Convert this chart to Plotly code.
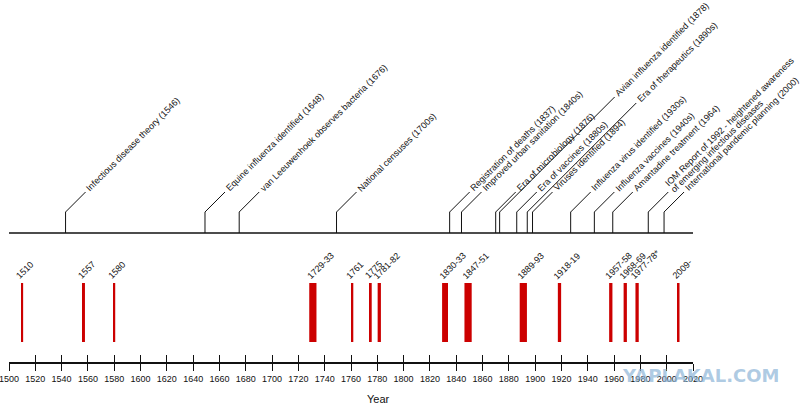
import plotly.graph_objects as go

# pandemics (red bars)
pandemic_labels = ['1510', '1557', '1580', '1729-33', '1761', '1775', '1781-82', '1830-33',
                   '1847-51', '1889-93', '1918-19', '1957-58', '1968-69', '1977-78*', '2009-']
pandemic_start = [1510, 1557, 1580, 1729, 1761, 1775, 1781, 1830, 1847, 1889, 1918, 1957, 1968, 1977, 2009]
pandemic_end = [1510, 1557, 1580, 1733, 1761, 1775, 1782, 1833, 1851, 1893, 1919, 1958, 1969, 1978, 2009]

# milestones on the upper timeline
event_labels = [
    'Infectious disease theory (1546)',
    'Equine influenza identified (1648)',
    'van Leeuwenhoek observes bacteria (1676)',
    'National censuses (1700s)',
    'Registration of deaths (1837)',
    'Improved urban sanitation (1840s)',
    'Era of microbiology (1876)',
    'Avian influenza identified (1878)',
    'Era of vaccines (1880s)',
    'Era of therapeutics (1890s)',
    'Viruses identified (1894)',
    'Influenza virus identified (1930s)',
    'Influenza vaccines (1940s)',
    'Amantadine treatment (1964)',
    'IOM Report of 1992 - heightened awareness\nof emerging infectious diseases',
    'International pandemic planning (2000)',
]
event_years = [1543, 1649, 1675, 1749, 1835, 1844, 1870, 1873, 1886, 1894, 1898, 1927, 1945, 1959, 1986, 1998]

tick_years = list(range(1500, 2021, 20))

FONT = 'Liberation Sans, Arial, sans-serif'
RED = '#cc0000'

W, H = 807, 405
ML, MR, MB = 9, 114, 43
px_per_year = (W - ML - MR) / (2020 - 1500)

# layout heights (in px above the axis)
line_y = 129
stub_y = 150
bar_base, bar_top = 20, 79
diag = {'Avian influenza identified (1878)': 115, 'Era of therapeutics (1890s)': 109}

fig = go.Figure()

# red bars
fig.add_trace(go.Bar(
    x=[(s + e) / 2 for s, e in zip(pandemic_start, pandemic_end)],
    y=[bar_top - bar_base] * len(pandemic_start),
    base=bar_base,
    width=[e - s + 1.5 for s, e in zip(pandemic_start, pandemic_end)],
    marker=dict(color=RED, line=dict(width=0)),
    hoverinfo='skip',
))

# upper timeline and leaders
fig.add_trace(go.Scatter(x=[1500, 2020], y=[line_y, line_y], mode='lines',
                         line=dict(color='#111', width=1.5), hoverinfo='skip'))

lx, ly = [], []
ends = []
for lab, yr in zip(event_labels, event_years):
    d = diag.get(lab, 20)
    ex, ey = yr + d / px_per_year, stub_y + d
    lx += [yr, yr, ex, None]
    ly += [line_y, stub_y, ey, None]
    ends.append((ex, ey))
fig.add_trace(go.Scatter(x=lx, y=ly, mode='lines', line=dict(color='#111', width=1),
                         hoverinfo='skip'))

# dummy trace so the second (inside ticks) axis is drawn
fig.add_trace(go.Scatter(x=[1500], y=[0], xaxis='x2', mode='markers',
                         marker=dict(opacity=0), hoverinfo='skip'))

annotations = []
for lab, s, e in zip(pandemic_labels, pandemic_start, pandemic_end):
    annotations.append(dict(
        x=(s + e) / 2, y=bar_top, text=lab, showarrow=False, textangle=-45,
        xanchor='left', yanchor='bottom', xshift=-10.6, yshift=-0.7,
        font=dict(family=FONT, size=9, color='#111')))

# text midline continues the leader; wrapped labels get split lines
for lab, (ex, ey) in zip(event_labels, ends):
    lines = lab.split('\n')
    for i, txt in enumerate(lines):
        perp = 0 if len(lines) == 1 else (-6 if i == 0 else 2.5)
        annotations.append(dict(
            x=ex, y=ey, text=txt, showarrow=False, textangle=-45,
            xanchor='left', yanchor='bottom',
            xshift=-3.8 + perp * 0.707, yshift=-3.8 - perp * 0.707,
            font=dict(family=FONT, size=9, color='#111')))

annotations.append(dict(x=1781, y=0, yref='paper', text='Year', showarrow=False,
                        yanchor='top', yshift=-29, font=dict(family=FONT, size=11, color='#111')))
# site watermark, bottom right
annotations.append(dict(x=1.011, y=-0.036, xref='paper', yref='paper', text='YAPLAKAL.COM',
                        showarrow=False, xanchor='center', yanchor='middle',
                        font=dict(family='DejaVu Sans', size=18, weight='bold',
                                  color='rgba(140,180,215,0.7)')))

axis_common = dict(range=[1500, 2020], tickvals=tick_years, ticklen=7, tickwidth=1.3,
                   tickcolor='#111', showgrid=False, zeroline=False, fixedrange=True)

fig.update_layout(
    width=W, height=H,
    margin=dict(l=ML, r=MR, t=0, b=MB),
    paper_bgcolor='white', plot_bgcolor='white',
    showlegend=False,
    xaxis=dict(**axis_common, ticks='outside', showline=True, linecolor='#111', linewidth=1.5,
               ticklabeloverflow='allow',
               tickfont=dict(family=FONT, size=9, color='#111')),
    xaxis2=dict(**axis_common, ticks='inside', overlaying='x', matches='x', anchor='y',
                showticklabels=False, showline=False),
    yaxis=dict(range=[0, H - MB], visible=False, fixedrange=True),
    annotations=annotations,
)

# page body has a default 8px margin; drop it so the figure sits at the corner
fig.write_html('out.html', config={'displayModeBar': False},
               post_script="document.body.style.margin = '0';")
